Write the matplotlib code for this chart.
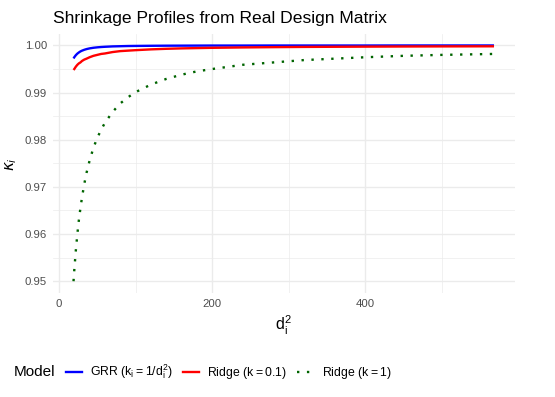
import numpy as np
import matplotlib
matplotlib.use('Agg')
import matplotlib.pyplot as plt
from matplotlib.lines import Line2D
from matplotlib.ticker import MultipleLocator


# squared singular values of the design matrix (x axis)
d2 = [19, 20, 22, 24, 26, 28, 30, 33, 36, 40, 45, 50, 55, 60, 70, 80, 90,
      100, 120, 140, 160, 180, 200, 240, 280, 320, 360, 400, 450, 500, 568]

# shrinkage factors
kappa_grr = [0.99724, 0.99751, 0.99794, 0.99827, 0.99852, 0.99873, 0.99889,
             0.99908, 0.99923, 0.99938, 0.99951, 0.99960, 0.99967, 0.99972,
             0.99980, 0.99984, 0.99988, 0.99990, 0.99993, 0.99995, 0.99996,
             0.99997, 0.99998, 0.99998, 0.99999, 0.99999, 0.99999, 0.99999,
             1.00000, 1.00000, 1.00000]
kappa_r01 = [0.9948, 0.9950, 0.9955, 0.9959, 0.9962, 0.9964, 0.9967, 0.9970,
             0.9972, 0.9975, 0.9978, 0.9980, 0.9982, 0.9983, 0.9986, 0.9988,
             0.9989, 0.9990, 0.99917, 0.99929, 0.99938, 0.99944, 0.9995,
             0.99958, 0.99964, 0.99969, 0.99972, 0.99975, 0.99978, 0.9998,
             0.99982]
kappa_r1 = [0.9500, 0.9524, 0.9565, 0.9600, 0.9630, 0.9655, 0.9677, 0.9706,
            0.9730, 0.9756, 0.9783, 0.9804, 0.9821, 0.9836, 0.9859, 0.9877,
            0.9890, 0.9901, 0.9917, 0.9929, 0.9938, 0.9945, 0.9950, 0.9959,
            0.9964, 0.9969, 0.9972, 0.9975, 0.9978, 0.9980, 0.9982]

labels = [r'GRR ($\mathregular{k_i = 1/d_i^2}$)',
          r'Ridge ($\mathregular{k = 0.1}$)',
          r'Ridge ($\mathregular{k = 1}$)']

plt.rcParams['font.family'] = ['Liberation Sans', 'DejaVu Sans']
plt.rcParams['mathtext.fontset'] = 'dejavusans'

fig = plt.figure(figsize=(5.55, 3.97), dpi=100)
ax = fig.add_axes([0.0946, 0.262, 0.8334, 0.652])

lw = 1.7
dots = (0, (1, 3.2))
ax.plot(d2, kappa_grr, color='#0000FF', lw=lw, solid_capstyle='butt')
ax.plot(d2, kappa_r01, color='#FF0000', lw=lw, solid_capstyle='butt')
ax.plot(d2, kappa_r1, color='#006400', lw=lw, linestyle=dots,
        dash_capstyle='butt')

xr = max(d2) - min(d2)
ax.set_xlim(min(d2) - 0.05 * xr, max(d2) + 0.05 * xr)
yr = 1.0 - min(kappa_r1)
ax.set_ylim(min(kappa_r1) - 0.05 * yr, 1.0 + 0.048 * yr)

ax.xaxis.set_major_locator(MultipleLocator(200))
ax.xaxis.set_minor_locator(MultipleLocator(100))
ax.yaxis.set_major_locator(MultipleLocator(0.01))
ax.yaxis.set_minor_locator(MultipleLocator(0.005))
ax.yaxis.set_major_formatter(matplotlib.ticker.FormatStrFormatter('%.2f'))

ax.grid(which='major', color='#EBEBEB', lw=1.0)
ax.grid(which='minor', color='#EBEBEB', lw=0.5)
ax.set_axisbelow(True)
for s in ax.spines.values():
    s.set_visible(False)
ax.tick_params(which='both', length=0, labelsize=8.2, labelcolor='#4D4D4D', pad=4)

ax.set_xlabel(r'$\mathregular{d_i^2}$', fontsize=11.5, labelpad=4)
ax.set_ylabel(r'$\kappa_i$', fontsize=11, labelpad=4)
ax.set_title('Shrinkage Profiles from Real Design Matrix', fontsize=12.6,
             loc='left', x=0.0, pad=8)

fig.text(14 / 555, 1 - 372 / 397, 'Model', fontsize=11, va='center', ha='left')
handles = [Line2D([], [], color='#0000FF', lw=lw),
           Line2D([], [], color='#FF0000', lw=lw),
           Line2D([], [], color='#006400', lw=lw, linestyle=dots)]
fig.legend(handles, labels, ncol=3, loc='center left',
           bbox_to_anchor=(66 / 555, 1 - 372 / 397), frameon=False,
           fontsize=8.8, handlelength=1.3, handletextpad=0.7, columnspacing=0.8,
           borderaxespad=0, borderpad=0)

fig.savefig('out.png', dpi=100)
